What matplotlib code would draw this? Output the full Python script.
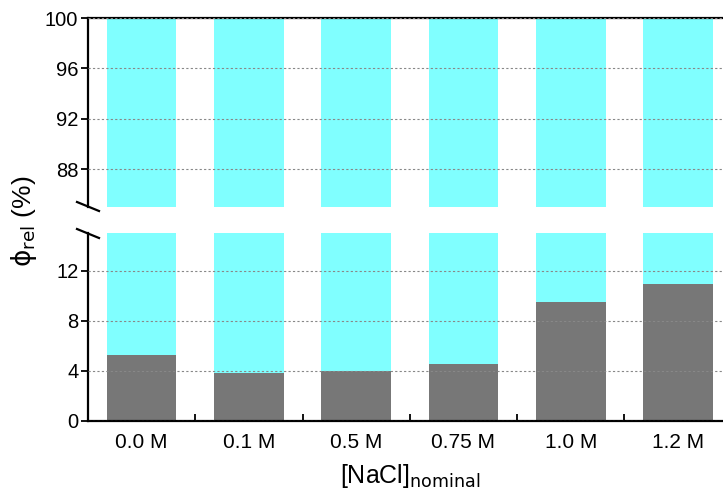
import matplotlib
matplotlib.use("Agg")
import matplotlib.pyplot as plt
from matplotlib.lines import Line2D
import numpy as np

plt.rcParams['font.family'] = ['Liberation Sans', 'DejaVu Sans']
plt.rcParams['mathtext.fontset'] = 'dejavusans'

categories = ["0.0 M", "0.1 M", "0.5 M", "0.75 M", "1.0 M", "1.2 M"]
gray_vals = [5.28, 3.81, 4.0, 4.53, 9.46, 10.93]
cyan_vals = [100 - g for g in gray_vals]
top_ticks = [88, 92, 96, 100]
bottom_ticks = [0, 4, 8, 12]

W, H = 723, 496
fig = plt.figure(figsize=(W / 100, H / 100), dpi=100)

def px_rect(x0, y0, x1, y1):
    return [x0 / W, 1 - y1 / H, (x1 - x0) / W, (y1 - y0) / H]

ax_top = fig.add_axes(px_rect(88, 18, 731.6, 207))
ax_bot = fig.add_axes(px_rect(88, 233, 731.6, 421))

GRAY = "#777777"
CYAN = "#80FFFF"
x = np.arange(len(categories))
for ax in (ax_top, ax_bot):
    ax.bar(x, gray_vals, width=0.65, color=GRAY, zorder=2)
    ax.bar(x, cyan_vals, width=0.65, bottom=gray_vals, color=CYAN, zorder=2)
    ax.set_xlim(-0.5, 5.5)
    ax.yaxis.grid(True, linestyle=(0, (2, 2)), color="#888888", linewidth=0.8, zorder=3)
    ax.set_axisbelow(False)
    ax.spines['right'].set_visible(False)
    for s in ax.spines.values():
        s.set_linewidth(1.6)
    ax.tick_params(axis='y', direction='out', length=5, width=1.3, labelsize=14.5, pad=2)

ax_top.set_ylim(85, 100)
ax_top.set_yticks(top_ticks)
ax_top.spines['bottom'].set_visible(False)
ax_top.tick_params(axis='x', which='both', bottom=False, top=False, labelbottom=False)

ax_bot.set_ylim(0, 15)
ax_bot.set_yticks(bottom_ticks)
ax_bot.spines['top'].set_visible(False)
ax_bot.set_xticks(x)
ax_bot.set_xticklabels(categories, fontsize=15)
ax_bot.set_xticks(x[:-1] + 0.5, minor=True)
ax_bot.tick_params(axis='x', which='major', length=0, pad=9)
ax_bot.tick_params(axis='x', which='minor', direction='in', length=5, width=1.3)
ax_bot.set_xlabel(r"[NaCl]$_{\mathrm{nominal}}$", fontsize=18, labelpad=7)

# axis break marks
for (x0, y0, x1, y1) in [(77, 202, 99, 211), (77, 229, 99, 238)]:
    fig.add_artist(Line2D([x0 / W, x1 / W], [1 - y0 / H, 1 - y1 / H],
                          transform=fig.transFigure, color="black", linewidth=1.6))

fig.text(24 / W, 1 - 221 / H, r"$\mathrm{\phi}_{\mathrm{rel}}$ (%)", rotation=90,
         ha="center", va="center", fontsize=19)

fig.savefig("out.png", dpi=100)
